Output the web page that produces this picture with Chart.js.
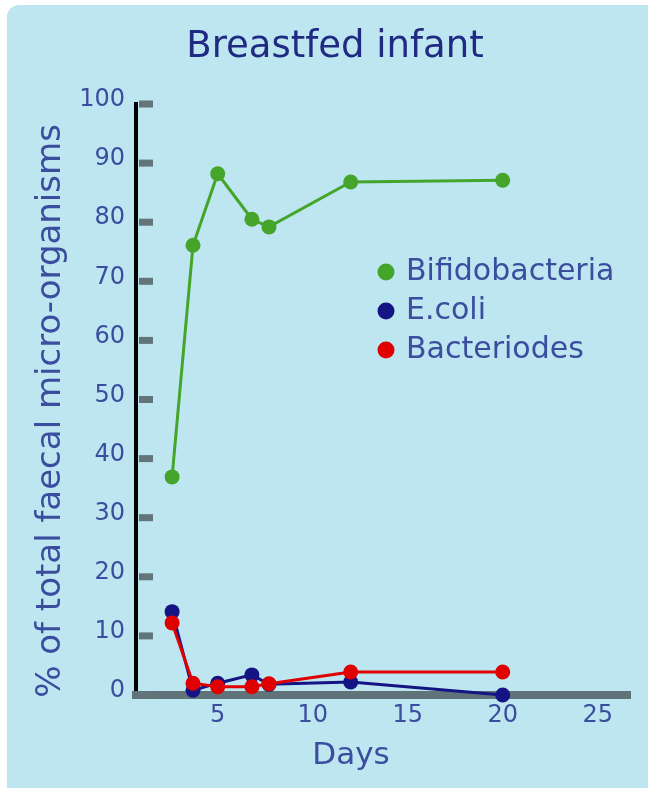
<!DOCTYPE html>
<html>
<head>
<meta charset="utf-8">
<title>Breastfed infant</title>
<script src="https://cdn.jsdelivr.net/npm/chart.js@4.4.0/dist/chart.umd.min.js"></script>
<style>
    html, body { margin: 0; padding: 0; background: #fff; }
    #panel { position: absolute; left: 7px; top: 5px; width: 641px; height: 783px; background: #bee6f0; border-top-left-radius: 12px; }
    #wrap { position: absolute; left: 0; top: 0; width: 648px; height: 788px; }
</style>
</head>
<body>
<div id="panel"></div>
<div id="wrap"><canvas id="microGraph" width="648" height="788"></canvas></div>
<script>
// values
const days = [2.6, 3.7, 5, 6.8, 7.7, 12, 20];
const bifidobacteria = [36.9, 76.1, 88.2, 80.5, 79.2, 86.8, 87.1];
const eColi = [14.1, 0.8, 2.0, 3.4, 1.8, 2.2, 0];
const bacteriodes = [12.2, 2.0, 1.4, 1.4, 1.9, 3.9, 3.9];
const seriesNames = ['Bifidobacteria', 'E.coli', 'Bacteriodes'];
const dayTicks = [5, 10, 15, 20, 25];
const yTitle = '% of total faecal micro-organisms';
const xTitle = 'Days';

const colors = ['#45a52b', '#141485', '#e00000'];
const textColor = '#3b4d9e';
const font = '"DejaVu Sans", sans-serif';

function toPoints(values) {
    return values.map((v, i) => ({ x: days[i], y: v }));
}

// tick marks inside the axis, axis titles and the legend box
const decorPlugin = {
    id: 'decor',
    beforeDatasetsDraw(chart) {
        const { ctx, chartArea, scales } = chart;
        ctx.save();
        ctx.fillStyle = '#627579';
        scales.y.ticks.forEach((t) => {
            const py = scales.y.getPixelForValue(t.value);
            ctx.fillRect(chartArea.left + 3, py - 3.5, 14, 7);
        });
        ctx.restore();
    },
    afterDraw(chart) {
        const { ctx, chartArea } = chart;
        ctx.save();
        ctx.fillStyle = textColor;
        ctx.textBaseline = 'middle';
        ctx.textAlign = 'center';
        ctx.font = '31px ' + font;
        ctx.fillText(xTitle, chartArea.left + 215, chartArea.bottom + 61);
        ctx.save();
        ctx.translate(51, chartArea.top + 307);
        ctx.rotate(-Math.PI / 2);
        ctx.font = '34px ' + font;
        ctx.fillText(yTitle, 0, 0);
        ctx.restore();

        // legend
        ctx.textAlign = 'left';
        ctx.font = '30px ' + font;
        chart.data.datasets.forEach((ds, i) => {
            const lx = chartArea.left + 250;
            const ly = chartArea.top + 168 + i * 39;
            ctx.beginPath();
            ctx.fillStyle = ds.pointBackgroundColor;
            ctx.arc(lx, ly, 8.5, 0, Math.PI * 2);
            ctx.fill();
            ctx.fillStyle = textColor;
            ctx.fillText(ds.label, lx + 20, ly);
        });
        ctx.restore();
    }
};

const datasets = [bifidobacteria, eColi, bacteriodes].map((values, i) => ({
    label: seriesNames[i],
    data: toPoints(values),
    borderColor: colors[i],
    backgroundColor: colors[i],
    pointBackgroundColor: colors[i],
    pointBorderColor: colors[i],
    pointRadius: 7.5,
    pointBorderWidth: 0,
    borderWidth: 3,
    tension: 0,
    clip: false,
    order: 2 - i
}));

new Chart(document.getElementById('microGraph'), {
    type: 'line',
    data: { datasets: datasets },
    plugins: [decorPlugin],
    options: {
        responsive: false,
        animation: false,
        events: [],
        layout: { padding: { left: 40, right: 18, top: 0, bottom: 0 } },
        plugins: {
            legend: { display: false },
            tooltip: { enabled: false },
            title: {
                display: true,
                text: 'Breastfed infant',
                color: '#1f2b82',
                font: { family: font, size: 37, weight: 'normal' },
                padding: { top: 25, bottom: 34.6 }
            }
        },
        scales: {
            x: {
                type: 'linear',
                min: 0.7,
                max: 26.7,
                afterFit: (scale) => { scale.height = 93; },
                afterBuildTicks: (scale) => { scale.ticks = dayTicks.map((v) => ({ value: v })); },
                grid: { display: false, drawTicks: false },
                border: { display: true, color: '#607378', width: 8 },
                ticks: {
                    color: textColor,
                    padding: 6,
                    font: { family: font, size: 24 },
                    maxRotation: 0
                }
            },
            y: {
                min: 0,
                max: 100,
                afterFit: (scale) => { scale.width = 96; },
                grid: { display: false, drawTicks: false },
                border: { display: true, color: '#000000', width: 4, z: -1 },
                ticks: {
                    stepSize: 10,
                    color: textColor,
                    padding: 11,
                    labelOffset: -4,
                    font: { family: font, size: 24 }
                }
            }
        }
    }
});
</script>
</body>
</html>
